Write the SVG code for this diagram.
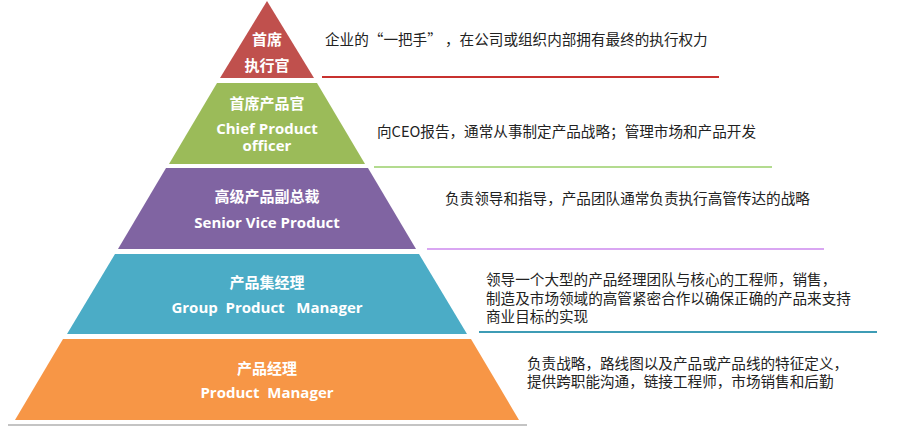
<svg xmlns="http://www.w3.org/2000/svg" width="900" height="427" viewBox="0 0 900 427">
<style>
.lbl{font-family:"Open Sans","Noto Sans CJK SC",sans-serif;font-weight:bold;fill:#fff;text-anchor:middle;dominant-baseline:central;white-space:pre}
.cn{font-family:"Noto Sans CJK SC","Noto Sans",sans-serif;font-weight:bold;font-size:15px;fill:#fff;text-anchor:middle;dominant-baseline:central}
.en{font-size:15px}
.desc{font-family:"Noto Sans CJK SC","Noto Sans",sans-serif;font-size:14.6px;fill:#222;dominant-baseline:central}
</style>
<rect width="900" height="427" fill="#fff"/>
<line x1="8" y1="425" x2="527" y2="425" stroke="#c4c4c4" stroke-width="2"/>
<g id="tier1">
<polygon points="267,1 314,78 220,78" fill="#C0504D"/>
<text class="cn" x="267" y="38">首席</text>
<text class="cn" x="267" y="64">执行官</text>
</g>
<g id="tier2">
<polygon points="217,83 317,83 365,164 169,164" fill="#9BBB59"/>
<text class="cn" x="267" y="102">首席产品官</text>
<text class="lbl en" x="267" y="128">Chief Product</text>
<text class="lbl en" x="267" y="145">officer</text>
</g>
<g id="tier3">
<polygon points="166,168 368,168 416,249 118,249" fill="#8064A2"/>
<text class="cn" x="267" y="195">高级产品副总裁</text>
<text class="lbl en" x="267" y="222">Senior Vice Product</text>
</g>
<g id="tier4">
<polygon points="115,254 419,254 467,334 67,334" fill="#4BACC6"/>
<text class="cn" x="267" y="281">产品集经理</text>
<text class="lbl en" x="267" y="307">Group  Product   Manager</text>
</g>
<g id="tier5">
<polygon points="63,339 471,339 519,420 15,420" fill="#F79646"/>
<text class="cn" x="267" y="367">产品经理</text>
<text class="lbl en" x="267" y="392">Product  Manager</text>
</g>
<g id="connectors">
<line x1="322" y1="77" x2="719" y2="77" stroke="#C8312F" stroke-width="2"/>
<line x1="374" y1="167" x2="772" y2="167" stroke="#B3DB8F" stroke-width="2"/>
<line x1="427" y1="249" x2="824" y2="249" stroke="#D9A6F2" stroke-width="2"/>
<line x1="479" y1="332" x2="877" y2="332" stroke="#3D9CB5" stroke-width="2"/>
</g>
<g id="descriptions">
<text class="desc" x="325" y="38">企业的“一把手” ，在公司或组织内部拥有最终的执行权力</text>
<text class="desc" x="377" y="130">向CEO报告，通常从事制定产品战略；管理市场和产品开发</text>
<text class="desc" x="445" y="197">负责领导和指导，产品团队通常负责执行高管传达的战略</text>
<text class="desc" x="486" y="278">领导一个大型的产品经理团队与核心的工程师，销售，</text>
<text class="desc" x="486" y="297">制造及市场领域的高管紧密合作以确保正确的产品来支持</text>
<text class="desc" x="486" y="315">商业目标的实现</text>
<text class="desc" x="527" y="362">负责战略，路线图以及产品或产品线的特征定义，</text>
<text class="desc" x="527" y="380">提供跨职能沟通，链接工程师，市场销售和后勤</text>
</g>
</svg>
